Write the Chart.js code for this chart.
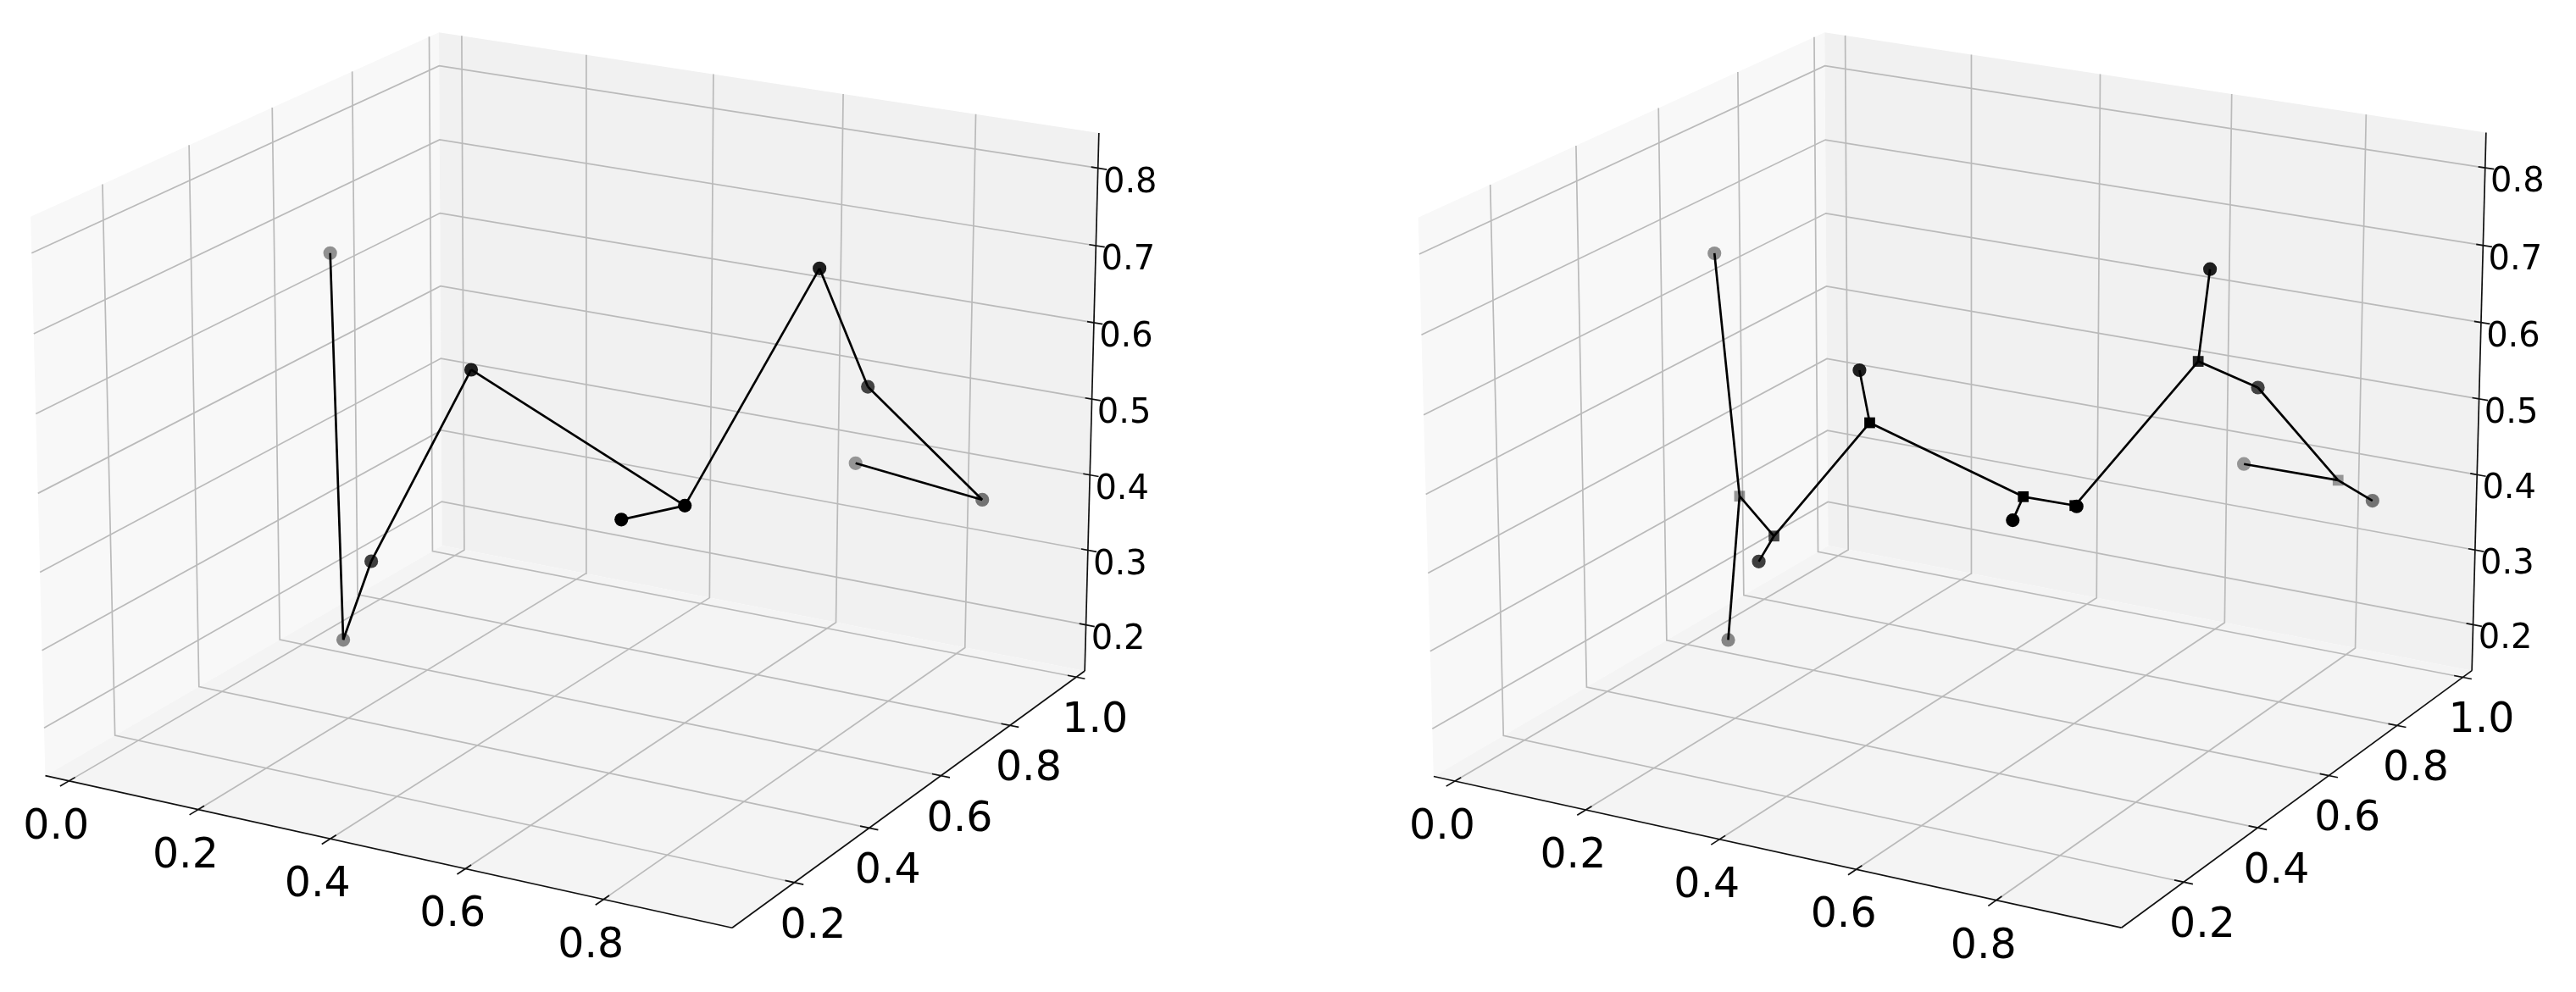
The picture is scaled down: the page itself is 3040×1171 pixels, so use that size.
<!DOCTYPE html>
<html>
<head>
<meta charset="utf-8">
<title>3D graphs</title>
<script src="https://cdn.jsdelivr.net/npm/chart.js@4/dist/chart.umd.min.js"></script>
<style>
  body { margin: 0; background: #fff; }
  canvas { position: absolute; top: 0; }
  #left3d { left: 0; }
  #right3d { left: 1520px; }
</style>
</head>
<body>
<canvas id="left3d" width="1520" height="1171"></canvas>
<canvas id="right3d" width="1520" height="1171"></canvas>
<script>
// Nodes, same in both panels
const nodeX = [0.0245, 0.050, 0.271, 0.404, 0.759, 0.694, 0.763, 0.763, 0.848, 0.638];
const nodeY = [0.643, 0.625, 0.348, 0.382, 0.313, 0.266, 0.658, 0.798, 0.973, 1.005];
const nodeZ = [0.653, 0.145, 0.372, 0.628, 0.533, 0.519, 0.735, 0.546, 0.361, 0.367];
const nodeShade = [0.42, 0.45, 0.75, 0.88, 1, 1, 0.88, 0.72, 0.52, 0.38];

// Square nodes, right panel only
const squareX = [0.0254, 0.2472, 0.5076, 0.6978, 0.7571, 0.7611, 0.7938];
const squareY = [0.698, 0.425, 0.232, 0.286, 0.312, 0.632, 0.978];
const squareZ = [0.314, 0.378, 0.620, 0.543, 0.534, 0.625, 0.378];
const squareShade = [0.4, 0.72, 1, 1, 1, 0.88, 0.38];

// Edges. "n" = node index, "s" = square index
const leftEdges = [["n0","n1"],["n1","n2"],["n2","n3"],["n3","n4"],["n4","n5"],["n4","n6"],["n6","n7"],["n7","n8"],["n8","n9"]];
const rightEdges = [["n0","s0"],["n1","s0"],["s0","s1"],["s1","n2"],["s1","s2"],["s2","n3"],["s2","s3"],["s3","n5"],["s3","s4"],["s4","n4"],["s4","s5"],["s5","n6"],["s5","n7"],["n7","s6"],["s6","n8"],["s6","n9"]];

// Ticks
const xTicks = [0, 0.2, 0.4, 0.6, 0.8];
const xTickLabels = ["0.0", "0.2", "0.4", "0.6", "0.8"];
const yTicks = [0.2, 0.4, 0.6, 0.8, 1];
const yTickLabels = ["0.2", "0.4", "0.6", "0.8", "1.0"];
const zTicks = [0.2, 0.3, 0.4, 0.5, 0.6, 0.7, 0.8];
const zTickLabels = ["0.2", "0.3", "0.4", "0.5", "0.6", "0.7", "0.8"];

// Axis limits of each panel
const leftLimits = { x0: -0.037, x1: 0.982, y0: 0.04, y1: 1.026, z0: 0.138, z1: 0.845 };
const rightLimits = { x0: -0.033, x1: 0.975, y0: 0.038, y1: 1.028, z0: 0.138, z1: 0.845 };

// Where the box corners land on the page, used to fit the camera of each panel
// order: left floor, front floor, right floor, back floor, left top, back top, right top
const leftCorners = [[53.3,916],[864,1095],[1280,792.3],[522,643.7],[36.4,255.6],[517.7,38.3],[1297,156.9]];
const rightCorners = [[1691.5,916.6],[2503.9,1094.7],[2916.8,792.6],[2157.8,643.8],[1673.6,257.2],[2153.4,38.3],[2933.8,156.1]];

function solve(A, b) {
  const n = b.length;
  const M = A.map((r, i) => [...r, b[i]]);
  for (let i = 0; i < n; i++) {
    let p = i;
    for (let r = i + 1; r < n; r++) if (Math.abs(M[r][i]) > Math.abs(M[p][i])) p = r;
    [M[i], M[p]] = [M[p], M[i]];
    for (let r = 0; r < n; r++) {
      if (r === i) continue;
      const f = M[r][i] / M[i][i];
      for (let c = i; c <= n; c++) M[r][c] -= f * M[i][c];
    }
  }
  return M.map((r, i) => r[n] / r[i]);
}

// Least squares fit of a perspective camera from the corners
function fitCamera(lim, px) {
  const box = [
    [lim.x0, lim.y0, lim.z0], [lim.x1, lim.y0, lim.z0], [lim.x1, lim.y1, lim.z0], [lim.x0, lim.y1, lim.z0],
    [lim.x0, lim.y0, lim.z1], [lim.x0, lim.y1, lim.z1], [lim.x1, lim.y1, lim.z1]
  ];
  const ATA = Array.from({ length: 11 }, () => Array(11).fill(0));
  const ATb = Array(11).fill(0);
  const addRow = (r, v) => {
    for (let i = 0; i < 11; i++) {
      ATb[i] += r[i] * v;
      for (let j = 0; j < 11; j++) ATA[i][j] += r[i] * r[j];
    }
  };
  box.forEach(([x, y, z], i) => {
    const [u, v] = px[i];
    addRow([x, y, z, 1, 0, 0, 0, 0, -u * x, -u * y, -u * z], u);
    addRow([0, 0, 0, 0, x, y, z, 1, -v * x, -v * y, -v * z], v);
  });
  return solve(ATA, ATb);
}

function project(P, x, y, z) {
  const w = P[8] * x + P[9] * y + P[10] * z + 1;
  return { x: (P[0] * x + P[1] * y + P[2] * z + P[3]) / w, y: (P[4] * x + P[5] * y + P[6] * z + P[7]) / w };
}

// Draws tick labels through the chart's own scales
const tickTextPlugin = {
  id: "tickText",
  afterDatasetsDraw(chart, args, opts) {
    const { ctx, scales } = chart;
    ctx.save();
    ctx.fillStyle = "#000";
    ctx.textAlign = "center";
    ctx.textBaseline = "alphabetic";
    opts.items.forEach(t => {
      ctx.font = `${t.size}px "DejaVu Sans"`;
      ctx.fillText(t.text, scales.x.getPixelForValue(t.pos.x) + t.dx, scales.y.getPixelForValue(t.pos.y) + t.dy + t.size * 0.365);
    });
    ctx.restore();
  }
};

function drawPanel(id, lim, corners, edges, withSquares, minX) {
  const P = fitCamera(lim, corners);
  const p = (x, y, z) => project(P, x, y, z);
  const sets = [];
  const add = ds => sets.push({ showLine: true, pointRadius: 0, clip: false, borderJoinStyle: "miter", ...ds });
  const path = (data, color, width) => add({ data, borderColor: color, borderWidth: width, fill: false });

  // Graph edges, on top of everything
  const nodePoint = key => {
    const i = Number(key.slice(1));
    return key[0] === "n" ? p(nodeX[i], nodeY[i], nodeZ[i]) : p(squareX[i], squareY[i], squareZ[i]);
  };
  edges.forEach(([a, b]) => path([nodePoint(a), nodePoint(b)], "#000", 2.7));

  // Markers
  add({
    showLine: false, pointStyle: "circle", pointRadius: 8.1, pointBorderWidth: 0,
    data: nodeX.map((x, i) => p(x, nodeY[i], nodeZ[i])),
    pointBackgroundColor: nodeShade.map(a => `rgba(0,0,0,${a})`)
  });
  if (withSquares) {
    add({
      showLine: false, pointStyle: "rect", pointRadius: 9, pointBorderWidth: 0,
      data: squareX.map((x, i) => p(x, squareY[i], squareZ[i])),
      pointBackgroundColor: squareShade.map(a => `rgba(0,0,0,${a})`)
    });
  }

  // Axis lines and ticks
  const labels = [];
  const axisColor = "#111";
  path([p(lim.x0, lim.y0, lim.z0), p(lim.x1, lim.y0, lim.z0)], axisColor, 1.7);
  path([p(lim.x1, lim.y0, lim.z0), p(lim.x1, lim.y1, lim.z0)], axisColor, 1.7);
  path([p(lim.x1, lim.y1, lim.z0), p(lim.x1, lim.y1, lim.z1)], axisColor, 1.7);
  xTicks.forEach((v, i) => {
    path([p(v, lim.y0 - 0.02, lim.z0), p(v, lim.y0 + 0.014, lim.z0)], axisColor, 1.7);
    labels.push({ text: xTickLabels[i], pos: p(v, lim.y0, lim.z0), dx: -15, dy: 50, size: 49 });
  });
  yTicks.forEach((v, i) => {
    path([p(lim.x1 - 0.013, v, lim.z0), p(lim.x1 + 0.013, v, lim.z0)], axisColor, 1.7);
    labels.push({ text: yTickLabels[i], pos: p(lim.x1, v, lim.z0), dx: 22, dy: 47, size: 49 });
  });
  zTicks.forEach((v, i) => {
    path([p(lim.x1 - 0.01, lim.y1, v), p(lim.x1 + 0.013, lim.y1, v)], axisColor, 1.7);
    labels.push({ text: zTickLabels[i], pos: p(lim.x1, lim.y1, v), dx: 38, dy: 13.5, size: 40 });
  });

  // Grid
  const gridColor = "#bababa";
  xTicks.forEach(v => path([p(v, lim.y0, lim.z0), p(v, lim.y1, lim.z0), p(v, lim.y1, lim.z1)], gridColor, 1.7));
  yTicks.forEach(v => path([p(lim.x1, v, lim.z0), p(lim.x0, v, lim.z0), p(lim.x0, v, lim.z1)], gridColor, 1.7));
  zTicks.forEach(v => path([p(lim.x1, lim.y1, v), p(lim.x0, lim.y1, v), p(lim.x0, lim.y0, v)], gridColor, 1.7));

  // Panes
  const pane = (pts, color) => add({
    data: [...pts, pts[0]], borderWidth: 0, borderColor: "transparent", backgroundColor: color, fill: "shape"
  });
  pane([p(lim.x0, lim.y0, lim.z0), p(lim.x1, lim.y0, lim.z0), p(lim.x1, lim.y1, lim.z0), p(lim.x0, lim.y1, lim.z0)], "#f4f4f4");
  pane([p(lim.x0, lim.y1, lim.z0), p(lim.x1, lim.y1, lim.z0), p(lim.x1, lim.y1, lim.z1), p(lim.x0, lim.y1, lim.z1)], "#f1f1f1");
  pane([p(lim.x0, lim.y0, lim.z0), p(lim.x0, lim.y1, lim.z0), p(lim.x0, lim.y1, lim.z1), p(lim.x0, lim.y0, lim.z1)], "#f8f8f8");

  sets.forEach((s, i) => { s.order = i; });

  new Chart(document.getElementById(id), {
    type: "scatter",
    data: { datasets: sets },
    plugins: [tickTextPlugin],
    options: {
      responsive: false,
      animation: false,
      layout: { padding: 0, autoPadding: false },
      events: [],
      scales: {
        x: { type: "linear", display: false, min: minX, max: minX + 1520 },
        y: { type: "linear", display: false, min: 0, max: 1171, reverse: true }
      },
      plugins: {
        legend: { display: false },
        tooltip: { enabled: false },
        tickText: { items: labels }
      }
    }
  });
}

drawPanel("left3d", leftLimits, leftCorners, leftEdges, false, 0);
drawPanel("right3d", rightLimits, rightCorners, rightEdges, true, 1520);
</script>
</body>
</html>
